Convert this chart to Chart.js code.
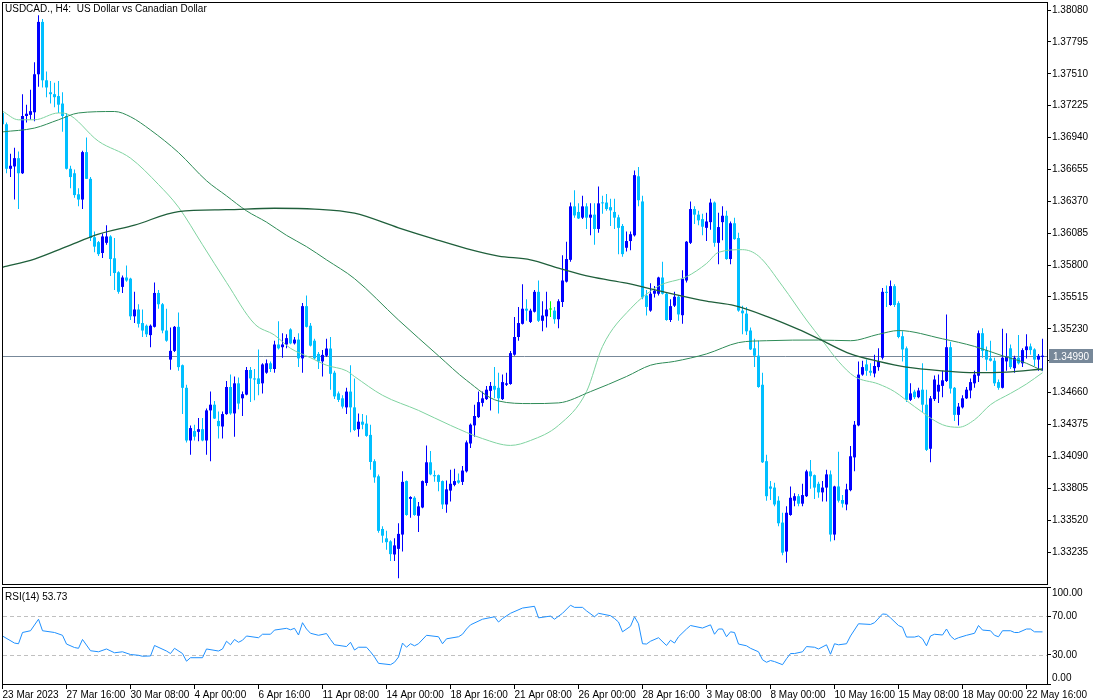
<!DOCTYPE html>
<html>
<head>
<meta charset="utf-8">
<title>USDCAD H4</title>
<script src="https://cdn.jsdelivr.net/npm/chart.js@4.4.1/dist/chart.umd.min.js"></script>
<style>
  body { margin: 0; background: #fff; width: 1100px; height: 700px; overflow: hidden; position: relative; font-family: "Liberation Sans", Arial, sans-serif; }
  .pane { position: absolute; left: 0; width: 1100px; }
  .lbl { position: absolute; font-size: 10px; line-height: 12px; color: #000; white-space: pre; }
</style>
</head>
<body>
<div class="pane" style="top:0;height:586px"><canvas id="mainChart"></canvas></div>
<div class="pane" style="top:586px;height:114px"><canvas id="rsiChart"></canvas></div>
<div class="lbl" style="left:5px;top:3px">USDCAD., H4:  US Dollar vs Canadian Dollar</div>
<div class="lbl" style="left:5px;top:591px">RSI(14) 53.73</div>
<script>
// H4 candles, bar 0 = 23 Mar 2023 00:00
const opens = [
  1.37160,1.37059,1.36661,1.36682,1.36756,1.36621,1.37133,1.37143,1.37166,1.37506,
  1.37974,1.37452,1.37345,1.37328,1.37311,1.37244,1.37133,1.36661,1.36621,1.36433,
  1.36386,1.36810,1.36571,1.36049,1.36005,1.35908,1.35999,1.36056,1.35861,1.35736,
  1.35605,1.35689,1.35679,1.35342,1.35403,1.35282,1.35258,1.35174,1.35248,1.35551,
  1.35450,1.35215,1.34955,1.35033,1.35248,1.34905,1.34703,1.34232,1.34316,1.34309,
  1.34333,1.34232,1.34501,1.34552,1.34407,1.34357,1.34468,1.34710,1.34474,1.34743,
  1.34609,1.34642,1.34862,1.34787,1.34787,1.34743,1.34838,1.34922,1.34871,1.35090,
  1.35066,1.35090,1.35225,1.35100,1.35134,1.34966,1.35433,1.35258,1.35124,1.35006,
  1.34939,1.34990,1.35054,1.34838,1.34653,1.34609,1.34528,1.34669,1.34528,1.34333,
  1.34400,1.34383,1.34282,1.34047,1.33912,1.33441,1.33357,1.33330,1.33213,1.33263,
  1.33391,1.33869,1.33710,1.33720,1.33559,1.33633,1.33852,1.34037,1.33922,1.33922,
  1.33869,1.33660,1.33784,1.33835,1.33875,1.33862,1.33956,1.34205,1.34367,1.34441,
  1.34568,1.34602,1.34676,1.34720,1.34703,1.34602,1.34730,1.34737,1.34999,1.35157,
  1.35275,1.35410,1.35292,1.35383,1.35561,1.35302,1.35342,1.35403,1.35393,1.35316,
  1.35470,1.35652,1.35847,1.36325,1.36275,1.36224,1.36325,1.36224,1.36251,1.36123,
  1.36359,1.36359,1.36318,1.36275,1.36227,1.36150,1.35955,1.36015,1.36066,1.36594,
  1.36369,1.35528,1.35393,1.35544,1.35544,1.35689,1.35544,1.35309,1.35437,1.35517,
  1.35352,1.35662,1.35999,1.36301,1.36251,1.36211,1.36133,1.36184,1.36359,1.35999,
  1.36184,1.36241,1.35854,1.36174,1.36042,1.35393,1.35366,1.35215,1.35056,1.34990,
  1.34730,1.34047,1.33821,1.33811,1.33694,1.33498,1.33239,1.33566,1.33694,1.33734,
  1.33667,1.33734,1.33956,1.33922,1.33845,1.33768,1.33811,1.33929,1.33391,1.33821,
  1.33700,1.33660,1.33788,1.34081,1.34367,1.34821,1.34912,1.34855,1.34831,1.34888,
  1.34972,1.35561,1.35443,1.35612,1.35460,1.35164,1.35056,1.34595,1.34669,1.34619,
  1.34686,1.34552,1.34158,1.34602,1.34669,1.34720,1.34764,1.35066,1.34703,1.34461,
  1.34528,1.34609,1.34679,1.34743,1.34811,1.35191,1.35040,1.34966,1.34945,1.34754,
  1.34703,1.34939,1.35056,1.34878,1.34972,1.34922,1.35040,1.35073,1.35046,1.34955,
  1.34979
];
const highs = [
  1.37328,1.37075,1.36796,1.36850,1.36816,1.37328,1.37234,1.37368,1.37614,1.38034,
  1.38001,1.37530,1.37446,1.37430,1.37446,1.37345,1.37160,1.36688,1.36655,1.36487,
  1.36823,1.36941,1.36587,1.36100,1.36015,1.36083,1.36157,1.36066,1.36042,1.35746,
  1.35706,1.35797,1.35686,1.35561,1.35450,1.35403,1.35268,1.35268,1.35645,1.35578,
  1.35460,1.35410,1.35241,1.35255,1.35376,1.34911,1.34730,1.34367,1.34373,1.34434,
  1.34434,1.34518,1.34669,1.34585,1.34491,1.34491,1.34764,1.34822,1.34804,1.34794,
  1.34669,1.34888,1.34888,1.34871,1.35046,1.34922,1.34955,1.34939,1.35124,1.35299,
  1.35191,1.35181,1.35235,1.35157,1.35191,1.35460,1.35528,1.35282,1.35141,1.35023,
  1.35040,1.35141,1.35157,1.34855,1.34669,1.34636,1.34703,1.34905,1.34787,1.34474,
  1.34468,1.34457,1.34373,1.34064,1.33929,1.33465,1.33424,1.33340,1.33357,1.33492,
  1.33956,1.33875,1.33734,1.33734,1.33683,1.33875,1.34188,1.34138,1.33963,1.33929,
  1.33875,1.33875,1.33970,1.33980,1.33936,1.34003,1.34232,1.34383,1.34552,1.34669,
  1.34669,1.34720,1.34754,1.34888,1.34838,1.34821,1.34838,1.35033,1.35336,1.35426,
  1.35628,1.35494,1.35410,1.35578,1.35662,1.35477,1.35561,1.35477,1.35426,1.35494,
  1.35888,1.36009,1.36359,1.36470,1.36352,1.36419,1.36352,1.36352,1.36352,1.36503,
  1.36419,1.36436,1.36392,1.36392,1.36251,1.36167,1.36100,1.36100,1.36645,1.36678,
  1.36419,1.35578,1.35638,1.35612,1.35696,1.35830,1.35551,1.35494,1.35561,1.35528,
  1.35753,1.36015,1.36369,1.36325,1.36285,1.36258,1.36268,1.36392,1.36369,1.36268,
  1.36325,1.36285,1.36190,1.36224,1.36089,1.35437,1.35426,1.35241,1.35141,1.35124,
  1.34838,1.34104,1.33869,1.33855,1.33734,1.33586,1.33643,1.33821,1.33761,1.33754,
  1.33845,1.33970,1.34057,1.33929,1.33862,1.33869,1.33970,1.33963,1.33828,1.34131,
  1.33744,1.33845,1.34182,1.34407,1.34939,1.34945,1.34955,1.34922,1.34999,1.35056,
  1.35595,1.35618,1.35662,1.35628,1.35477,1.35208,1.35073,1.34743,1.34686,1.34703,
  1.34922,1.34686,1.34629,1.34814,1.34822,1.34855,1.35359,1.35114,1.34710,1.34568,
  1.34636,1.34710,1.34787,1.34855,1.35215,1.35235,1.35073,1.35124,1.34972,1.34777,
  1.35231,1.35191,1.35090,1.34989,1.35174,1.35056,1.35181,1.35100,1.35056,1.35006,
  1.35141
];
const lows = [
  1.37042,1.36621,1.36587,1.36386,1.36301,1.36614,1.37075,1.37099,1.37086,1.37395,
  1.37388,1.37301,1.37244,1.37210,1.37160,1.36991,1.36655,1.36487,1.36402,1.36325,
  1.36301,1.36571,1.36015,1.35914,1.35881,1.35864,1.35982,1.35703,1.35578,1.35544,
  1.35551,1.35652,1.35309,1.35282,1.35241,1.35157,1.35157,1.35066,1.35241,1.35410,
  1.35191,1.35114,1.34865,1.35023,1.34855,1.34468,1.34215,1.34104,1.34232,1.34225,
  1.34225,1.34104,1.34047,1.34425,1.34249,1.34249,1.34461,1.34461,1.34266,1.34511,
  1.34452,1.34636,1.34575,1.34592,1.34636,1.34653,1.34828,1.34844,1.34838,1.35046,
  1.34972,1.35056,1.35093,1.35090,1.34888,1.34838,1.35241,1.35073,1.34955,1.34871,
  1.34804,1.34979,1.34686,1.34602,1.34575,1.34518,1.34468,1.34306,1.34316,1.34266,
  1.34333,1.34266,1.33970,1.33855,1.33408,1.33317,1.33256,1.33155,1.33155,1.33000,
  1.33239,1.33559,1.33542,1.33559,1.33414,1.33626,1.33828,1.33922,1.33862,1.33778,
  1.33620,1.33586,1.33687,1.33822,1.33845,1.33835,1.33946,1.34165,1.34266,1.34434,
  1.34535,1.34595,1.34501,1.34609,1.34474,1.34595,1.34720,1.34730,1.34990,1.35124,
  1.35268,1.35302,1.35282,1.35376,1.35292,1.35208,1.35241,1.35336,1.35275,1.35235,
  1.35426,1.35645,1.35830,1.36224,1.36211,1.36211,1.36123,1.36066,1.35982,1.36089,
  1.36258,1.36286,1.36150,1.36123,1.35898,1.35874,1.35921,1.35932,1.36056,1.36325,
  1.35494,1.35349,1.35383,1.35511,1.35528,1.35538,1.35302,1.35292,1.35426,1.35302,
  1.35275,1.35645,1.35988,1.36167,1.36157,1.36066,1.36015,1.36116,1.35965,1.35807,
  1.36022,1.35847,1.35807,1.36026,1.35383,1.35181,1.35174,1.35040,1.34888,1.34703,
  1.34030,1.33694,1.33700,1.33643,1.33465,1.33206,1.33138,1.33559,1.33643,1.33643,
  1.33643,1.33727,1.33801,1.33710,1.33720,1.33687,1.33687,1.33330,1.33340,1.33677,
  1.33633,1.33609,1.33778,1.33956,1.34360,1.34811,1.34811,1.34811,1.34797,1.34855,
  1.34955,1.35426,1.35437,1.35426,1.35147,1.34939,1.34575,1.34585,1.34602,1.34609,
  1.34484,1.34138,1.34037,1.34585,1.34568,1.34619,1.34754,1.34653,1.34407,1.34367,
  1.34518,1.34602,1.34609,1.34703,1.34754,1.34972,1.34855,1.34939,1.34720,1.34686,
  1.34696,1.34855,1.34871,1.34838,1.34912,1.34888,1.34966,1.34999,1.34898,1.34855,
  1.34855
];
const closes = [
  1.37059,1.36661,1.36688,1.36756,1.36621,1.37133,1.37153,1.37176,1.37506,1.37974,
  1.37452,1.37388,1.37328,1.37301,1.37234,1.37133,1.36661,1.36587,1.36426,1.36386,
  1.36810,1.36571,1.36042,1.35965,1.35898,1.36056,1.36056,1.35854,1.35729,1.35561,
  1.35689,1.35662,1.35342,1.35403,1.35275,1.35215,1.35181,1.35258,1.35551,1.35450,
  1.35215,1.35124,1.35033,1.35248,1.34888,1.34703,1.34232,1.34343,1.34266,1.34333,
  1.34232,1.34501,1.34552,1.34428,1.34360,1.34468,1.34710,1.34474,1.34743,1.34562,
  1.34646,1.34862,1.34787,1.34777,1.34737,1.34912,1.34922,1.34871,1.35090,1.35056,
  1.35090,1.35147,1.35100,1.35134,1.34966,1.35433,1.35248,1.35080,1.34966,1.34939,
  1.34997,1.35054,1.34828,1.34626,1.34595,1.34535,1.34669,1.34528,1.34326,1.34400,
  1.34373,1.34273,1.34040,1.33902,1.33424,1.33381,1.33323,1.33216,1.33294,1.33397,
  1.33862,1.33566,1.33727,1.33566,1.33643,1.33869,1.34037,1.33929,1.33912,1.33862,
  1.33660,1.33795,1.33845,1.33869,1.33855,1.33963,1.34215,1.34373,1.34451,1.34575,
  1.34609,1.34686,1.34720,1.34686,1.34609,1.34754,1.34743,1.35013,1.35157,1.35282,
  1.35410,1.35393,1.35393,1.35561,1.35302,1.35349,1.35403,1.35403,1.35316,1.35477,
  1.35662,1.35854,1.36325,1.36244,1.36217,1.36325,1.36224,1.36251,1.36123,1.36352,
  1.36352,1.36301,1.36289,1.36224,1.36133,1.35898,1.36015,1.36076,1.36604,1.36380,
  1.35511,1.35426,1.35544,1.35571,1.35689,1.35544,1.35309,1.35433,1.35517,1.35359,
  1.35679,1.36009,1.36301,1.36251,1.36200,1.36143,1.36190,1.36359,1.35999,1.36140,
  1.36241,1.35854,1.36174,1.36032,1.35393,1.35369,1.35208,1.35046,1.34990,1.34710,
  1.34037,1.33734,1.33801,1.33660,1.33492,1.33229,1.33586,1.33720,1.33734,1.33667,
  1.33744,1.33956,1.33912,1.33811,1.33768,1.33811,1.33929,1.33391,1.33821,1.33694,
  1.33667,1.33795,1.34091,1.34373,1.34821,1.34888,1.34855,1.34838,1.34898,1.34939,
  1.35561,1.35551,1.35612,1.35443,1.35157,1.35046,1.34595,1.34653,1.34619,1.34679,
  1.34552,1.34148,1.34609,1.34777,1.34730,1.34770,1.35066,1.34696,1.34461,1.34535,
  1.34609,1.34686,1.34754,1.34821,1.35191,1.35033,1.34955,1.34945,1.34743,1.34703,
  1.34972,1.34979,1.34888,1.34972,1.34922,1.35040,1.35073,1.35040,1.34955,1.34989,
  1.34990
];

// moving averages (bar index -> price)
const maSlowIdx = [0, 8, 16, 24, 33, 44, 56, 68, 78, 88, 99, 108, 116, 124, 132, 139, 147, 156, 164, 176, 183, 191, 199, 205, 212, 219, 226, 235, 243, 251, 260];
const maSlowVal = [1.35780, 1.35854, 1.35965, 1.36076, 1.36157, 1.36278, 1.36295, 1.36308, 1.36301, 1.36264, 1.36133, 1.36032, 1.35948, 1.35881, 1.35847, 1.35773, 1.35696, 1.35638, 1.35571, 1.35477, 1.35437, 1.35342, 1.35225, 1.35124, 1.35006, 1.34939, 1.34888, 1.34855, 1.34838, 1.34844, 1.34871];
const maMidIdx = [0, 8, 14, 19, 28, 32, 37, 44, 51, 56, 61, 66, 71, 76, 81, 88, 99, 109, 116, 124, 132, 139, 147, 156, 162, 168, 176, 184, 191, 204, 212, 219, 224, 235, 243, 250, 256, 260];
const maMidVal = [1.36991, 1.37025, 1.37099, 1.37160, 1.37173, 1.37126, 1.37008, 1.36806, 1.36554, 1.36419, 1.36285, 1.36184, 1.36066, 1.35965, 1.35847, 1.35679, 1.35309, 1.34989, 1.34770, 1.34585, 1.34562, 1.34568, 1.34669, 1.34804, 1.34905, 1.34939, 1.35006, 1.35107, 1.35124, 1.35130, 1.35124, 1.35181, 1.35215, 1.35141, 1.35073, 1.34989, 1.34922, 1.34855];
const maFastIdx = [0, 4, 8, 14, 16, 24, 32, 39, 44, 50, 56, 63, 68, 72, 77, 81, 86, 88, 95, 104, 112, 120, 127, 132, 139, 146, 150, 157, 164, 171, 176, 179, 185, 189, 195, 201, 205, 209, 213, 219, 223, 228, 235, 239, 243, 247, 252, 256, 260];
const maFastVal = [1.37176, 1.37099, 1.37099, 1.37160, 1.37153, 1.36907, 1.36756, 1.36520, 1.36318, 1.35982, 1.35645, 1.35275, 1.35174, 1.35056, 1.34972, 1.34905, 1.34855, 1.34804, 1.34636, 1.34501, 1.34367, 1.34249, 1.34188, 1.34232, 1.34367, 1.34669, 1.35073, 1.35410, 1.35612, 1.35696, 1.35814, 1.35914, 1.35938, 1.35881, 1.35612, 1.35309, 1.35124, 1.34939, 1.34804, 1.34737, 1.34669, 1.34535, 1.34373, 1.34350, 1.34417, 1.34552, 1.34653, 1.34737, 1.34838];

// RSI(14)
const rsiIdx = [0, 3, 4, 5, 7, 9, 10, 13, 15, 16, 18, 19, 20, 22, 24, 26, 28, 30, 32, 34, 35, 37, 38, 41, 42, 43, 45, 46, 47, 50, 51, 54, 55, 56, 57, 58, 59, 60, 61, 64, 65, 67, 68, 71, 72, 73, 74, 75, 76, 77, 79, 81, 82, 83, 86, 87, 88, 89, 91, 92, 93, 94, 97, 98, 99, 100, 101, 102, 103, 104, 106, 109, 110, 111, 114, 115, 116, 117, 120, 123, 124, 125, 127, 130, 133, 134, 137, 138, 140, 142, 143, 145, 146, 148, 149, 152, 153, 154, 155, 157, 158, 159, 160, 161, 162, 164, 166, 167, 168, 169, 171, 172, 175, 177, 178, 179, 180, 181, 182, 183, 184, 186, 187, 189, 190, 191, 192, 193, 195, 196, 197, 198, 200, 201, 203, 204, 206, 207, 208, 209, 211, 212, 214, 217, 218, 220, 221, 222, 224, 225, 226, 228, 229, 230, 231, 232, 233, 235, 236, 237, 238, 239, 241, 243, 244, 245, 247, 248, 249, 250, 252, 253, 254, 256, 257, 258, 260];
const rsiVal = [49.5, 42.2, 41.5, 53.1, 54.9, 66.8, 54.9, 53.1, 50.2, 41.2, 37.6, 36.8, 45.9, 34.3, 33.2, 36.1, 32.2, 33.2, 30.4, 29.6, 28.6, 28.9, 39.7, 34.0, 31.4, 36.8, 31.4, 23.5, 27.1, 27.1, 36.1, 34.0, 36.1, 44.1, 40.4, 45.9, 43.0, 45.1, 49.5, 47.7, 51.3, 51.3, 55.6, 57.4, 55.9, 57.4, 50.5, 63.2, 56.7, 52.3, 50.2, 52.0, 45.9, 40.4, 38.6, 43.0, 35.0, 37.9, 37.9, 33.2, 27.8, 21.3, 19.9, 22.4, 27.8, 42.2, 37.9, 41.5, 39.4, 41.5, 50.2, 48.7, 41.5, 46.6, 48.7, 51.3, 56.7, 61.0, 66.8, 69.3, 63.9, 67.5, 72.9, 78.3, 80.1, 68.2, 70.0, 66.8, 72.9, 81.2, 79.0, 79.0, 75.4, 69.3, 72.9, 70.4, 67.5, 63.9, 53.8, 59.5, 69.3, 62.1, 41.5, 41.2, 44.1, 47.7, 39.7, 45.1, 42.2, 48.7, 56.7, 60.3, 57.7, 61.0, 51.3, 56.7, 56.7, 48.7, 53.8, 53.1, 41.2, 39.4, 36.8, 33.2, 25.0, 22.4, 24.2, 23.1, 19.9, 26.0, 31.4, 31.4, 33.2, 38.6, 37.9, 36.1, 40.4, 30.7, 41.5, 40.4, 41.5, 49.5, 62.1, 61.4, 63.2, 72.2, 71.8, 68.2, 60.3, 58.5, 48.4, 48.4, 49.5, 46.6, 39.4, 49.5, 51.3, 50.5, 56.7, 49.5, 45.9, 47.7, 50.2, 52.3, 60.3, 55.6, 54.9, 50.2, 48.7, 54.9, 54.9, 53.1, 53.1, 56.7, 56.7, 53.8, 53.73];
const rsiLevels = [70, 30];
const rsiTicks = [0, 30, 70, 100];

const priceTicks = [1.33235, 1.33520, 1.33805, 1.34090, 1.34375, 1.34660, 1.34945, 1.35230, 1.35515, 1.35800, 1.36085, 1.36370, 1.36655, 1.36940, 1.37225, 1.37510, 1.37795, 1.38080];
const timeLabels = ["23 Mar 2023", "27 Mar 16:00", "30 Mar 08:00", "4 Apr 00:00", "6 Apr 16:00", "11 Apr 08:00", "14 Apr 00:00", "18 Apr 16:00", "21 Apr 08:00", "26 Apr 00:00", "28 Apr 16:00", "3 May 08:00", "8 May 00:00", "10 May 16:00", "15 May 08:00", "18 May 00:00", "22 May 16:00"];
const barsPerLabel = 16;

const BULL = "#0000ff";
const BEAR = "#00bfff";
const DOJI = "#00ff00";
const AXIS_W = 53;
const xRange = { min: -0.125, max: 261.125 };
const priceRange = { min: 1.32949, max: 1.38152 };

Chart.defaults.font.family = '"Liberation Sans", Arial, sans-serif';
Chart.defaults.font.size = 10;
Chart.defaults.color = "#000";

const bars = opens.map((_, i) => i);
const candleColor = (i) => closes[i] > opens[i] ? BULL : (closes[i] < opens[i] ? BEAR : DOJI);
const toPoints = (idx, vals) => idx.map((x, k) => ({ x: x, y: vals[k] }));

// black frame round the plot area, like the terminal draws it
const framePlugin = {
  id: "frame",
  afterDraw(chart) {
    const { ctx, chartArea: a } = chart;
    ctx.save();
    ctx.strokeStyle = "#000";
    ctx.lineWidth = 1;
    ctx.strokeRect(Math.round(a.left) + 0.5, Math.round(a.top) + 0.5, Math.round(a.right - a.left), Math.round(a.bottom - a.top));
    ctx.restore();
  }
};

const lastPricePlugin = {
  id: "lastPrice",
  beforeDatasetsDraw(chart) {
    const { ctx, chartArea: a } = chart;
    const y = Math.round(chart.scales.y.getPixelForValue(closes[closes.length - 1])) + 0.5;
    ctx.save();
    ctx.strokeStyle = "#778899";
    ctx.lineWidth = 1;
    ctx.beginPath();
    ctx.moveTo(a.left, y);
    ctx.lineTo(a.right, y);
    ctx.stroke();
    ctx.restore();
  },
  afterDraw(chart) {
    const { ctx, chartArea: a } = chart;
    const last = closes[closes.length - 1];
    const y = Math.round(chart.scales.y.getPixelForValue(last));
    ctx.save();
    ctx.fillStyle = "#778899";
    ctx.fillRect(a.right + 2, y - 7, 44, 14);
    ctx.fillStyle = "#fff";
    ctx.font = '10px "Liberation Sans", Arial, sans-serif';
    ctx.textBaseline = "middle";
    ctx.fillText(last.toFixed(5), a.right + 6, y + 1);
    ctx.restore();
  }
};

const levelsPlugin = {
  id: "levels",
  beforeDatasetsDraw(chart) {
    const { ctx, chartArea: a } = chart;
    ctx.save();
    ctx.strokeStyle = "#c0c0c0";
    ctx.lineWidth = 1;
    ctx.setLineDash([4, 3]);
    rsiLevels.forEach((lvl) => {
      const y = Math.round(chart.scales.y.getPixelForValue(lvl)) + 0.5;
      ctx.beginPath();
      ctx.moveTo(a.left + 1, y);
      ctx.lineTo(a.right, y);
      ctx.stroke();
    });
    ctx.restore();
  }
};

const noPad = (s) => { s.paddingTop = 0; s.paddingBottom = 0; s.paddingLeft = 0; s.paddingRight = 0; };

const maLine = (idx, vals, color, width) => ({
  type: "line",
  data: toPoints(idx, vals),
  borderColor: color,
  borderWidth: width,
  pointRadius: 0,
  cubicInterpolationMode: "monotone",
  order: 0,
});

new Chart(document.getElementById("mainChart"), {
  type: "bar",
  data: {
    datasets: [
      maLine(maSlowIdx, maSlowVal, "#1f5f3b", 1.3),
      maLine(maMidIdx, maMidVal, "#2e8b57", 1),
      maLine(maFastIdx, maFastVal, "#7fd3a0", 1),
      {
        type: "bar",
        data: bars.map((i) => ({ x: i, y: [Math.min(opens[i], closes[i]), Math.max(opens[i], closes[i])] })),
        backgroundColor: (c) => candleColor(c.dataIndex),
        barThickness: 3,
        minBarLength: 1,
        grouped: false,
        inflateAmount: 0,
        borderWidth: 0,
        order: 1,
      },
      {
        type: "bar",
        data: bars.map((i) => ({ x: i, y: [lows[i], highs[i]] })),
        backgroundColor: (c) => candleColor(c.dataIndex),
        barThickness: 1,
        grouped: false,
        inflateAmount: 0,
        borderWidth: 0,
        order: 2,
      },
    ],
  },
  options: {
    animation: false,
    responsive: true,
    maintainAspectRatio: false,
    events: [],
    layout: { padding: { left: 2, top: 2, right: 0, bottom: 2 } },
    plugins: { legend: { display: false }, tooltip: { enabled: false } },
    scales: {
      x: { type: "linear", min: xRange.min, max: xRange.max, offset: false, display: false, grid: { offset: false } },
      y: {
        position: "right",
        min: priceRange.min,
        max: priceRange.max,
        afterBuildTicks: (s) => { s.ticks = priceTicks.map((v) => ({ value: v })); },
        afterFit: (s) => { s.width = AXIS_W; noPad(s); },
        grid: { drawOnChartArea: false, drawTicks: true, tickLength: 4, tickColor: "#000" },
        border: { display: false },
        ticks: { padding: 1, color: "#000", callback: (v) => Number(v).toFixed(5) },
      },
    },
  },
  plugins: [lastPricePlugin, framePlugin],
});

new Chart(document.getElementById("rsiChart"), {
  type: "line",
  data: {
    datasets: [
      {
        data: toPoints(rsiIdx, rsiVal),
        borderColor: "#1e90ff",
        borderWidth: 1,
        pointRadius: 0,
        tension: 0,
      },
    ],
  },
  options: {
    animation: false,
    responsive: true,
    maintainAspectRatio: false,
    events: [],
    layout: { padding: { left: 2, top: 1, right: 0, bottom: 0 } },
    plugins: { legend: { display: false }, tooltip: { enabled: false } },
    scales: {
      x: {
        type: "linear",
        min: xRange.min,
        max: xRange.max,
        offset: false,
        afterBuildTicks: (s) => { s.ticks = timeLabels.map((_, k) => ({ value: k * barsPerLabel })); },
        afterFit: (s) => { s.height = 16; noPad(s); },
        grid: { drawOnChartArea: false, drawTicks: true, tickLength: 5, tickColor: "#000", offset: false },
        border: { display: false },
        ticks: { align: "start", autoSkip: false, maxRotation: 0, padding: 0, color: "#000", callback: (v, i) => timeLabels[i] },
      },
      y: {
        position: "right",
        min: 0,
        max: 100,
        afterBuildTicks: (s) => { s.ticks = rsiTicks.map((v) => ({ value: v })); },
        afterFit: (s) => { s.width = AXIS_W; noPad(s); },
        grid: { drawOnChartArea: false, drawTicks: true, tickLength: 4, tickColor: "#000" },
        border: { display: false },
        ticks: {
          padding: 1,
          color: "#000",
          callback: (v) => v === 100 ? ["", "100.00"] : (v === 0 ? ["0.00", ""] : Number(v).toFixed(2)),
        },
      },
    },
  },
  plugins: [levelsPlugin, framePlugin],
});
</script>
</body>
</html>
